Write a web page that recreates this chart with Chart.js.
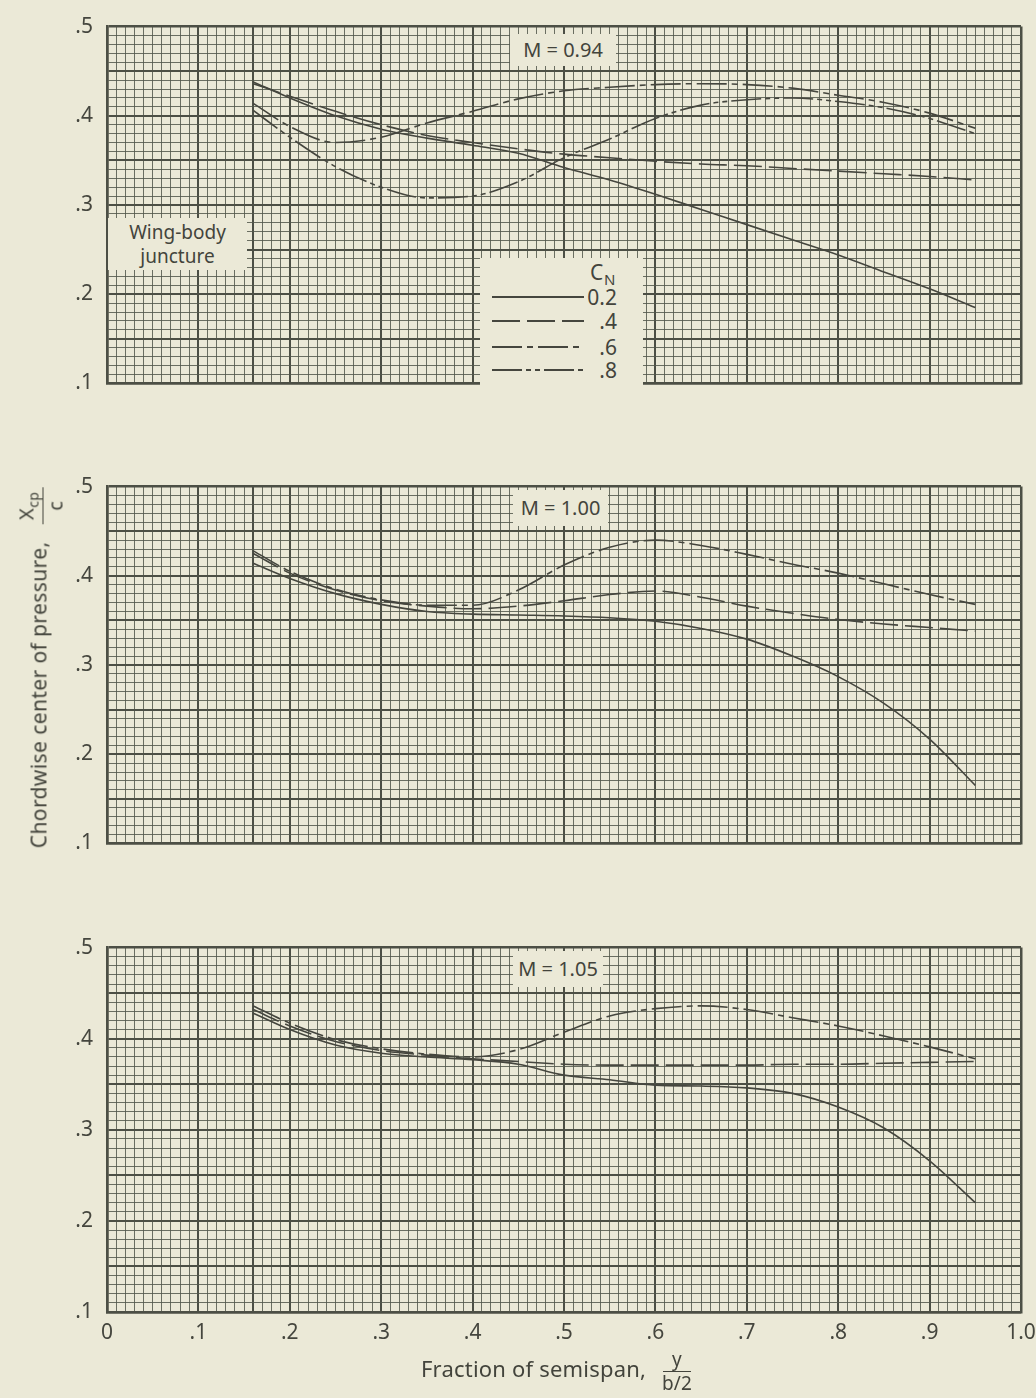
<!DOCTYPE html>
<html>
<head>
<meta charset="utf-8">
<script src="https://cdn.jsdelivr.net/npm/chart.js@4.4.1/dist/chart.umd.min.js"></script>
<style>
  body { margin: 0; width: 1036px; height: 1398px; position: relative; overflow: hidden;
         background: #ebe9d7; color: #43443c; font-family: "Noto Sans", sans-serif; }
  canvas { position: absolute; left: 0; }
  .tag { position: absolute; background: #ebe9d7; text-align: center; font-size: 20px; line-height: 1; }
  .legend { position: absolute; background: #ebe9d7; }
  .legend .row { position: absolute; left: 0; width: 100%; height: 22px; }
  .legend svg { position: absolute; left: 12px; top: 8px; }
  .legend .val { position: absolute; right: 26px; top: 0; font-size: 21px; line-height: 22px; }
  .frac { display: inline-flex; flex-direction: column; align-items: center; vertical-align: middle; line-height: 1; }
  .frac .num { padding: 0 4px 2px; border-bottom: 1.5px solid #43443c; }
  .frac .den { padding: 2px 4px 0; }
</style>
</head>
<body>
<canvas id="panel094" width="1036" height="410" style="top:0px"></canvas>
<canvas id="panel100" width="1036" height="410" style="top:460px"></canvas>
<canvas id="panel105" width="1036" height="477" style="top:921px"></canvas>

<div class="tag" style="left:510px; top:34px; width:106px; height:32px; line-height:32px;">M = 0.94</div>
<div class="tag" style="left:513px; top:490px; width:95px; height:36px; line-height:36px;">M = 1.00</div>
<div class="tag" style="left:513px; top:951px; width:90px; height:36px; line-height:36px;">M = 1.05</div>
<div class="tag" style="left:108px; top:218px; width:139px; height:52px; font-size:19px; line-height:24px; padding-top:2px; box-sizing:border-box;">Wing-body<br>juncture</div>

<div class="legend" id="legend" style="left:480px; top:258px; width:163px; height:133px;">
  <span style="position:absolute; left:110px; top:2px; font-size:21px; line-height:24px;">C</span>
  <span style="position:absolute; left:124px; top:12px; font-size:15px; line-height:18px;">N</span>
</div>

<div style="position:absolute; left:41px; top:668px; transform:translate(-50%,-50%) rotate(-90deg); white-space:nowrap; font-size:21px; letter-spacing:0.4px;">
  Chordwise center of pressure,&nbsp;&nbsp; <span class="frac" style="font-size:20px;"><span class="num">X<sub style="font-size:14px;">cp</sub></span><span class="den">c</span></span>
</div>
<div style="position:absolute; left:421px; top:1350px; white-space:nowrap; font-size:22px; letter-spacing:0.2px;">
  Fraction of semispan,&nbsp; <span class="frac" style="font-size:19px;"><span class="num">&nbsp;y&nbsp;</span><span class="den">b/2</span></span>
</div>

<script>
// spanwise stations, y/(b/2)
const span = [0.16, 0.2, 0.25, 0.3, 0.35, 0.4, 0.45, 0.5, 0.55, 0.6, 0.65, 0.7, 0.75, 0.8, 0.85, 0.9, 0.95];

// normal-force coefficients and their line patterns
const cnLabels = ['0.2', '.4', '.6', '.8'];
const cnDash = [[], [28, 7], [30, 5, 6, 5], [30, 4, 5, 4, 5, 4]];

// xcp/c at M = 0.94
const m094cn02 = [0.438, 0.420, 0.400, 0.385, 0.375, 0.367, 0.358, 0.342, 0.328, 0.312, 0.295, 0.278, 0.261, 0.244, 0.225, 0.206, 0.185];
const m094cn04 = [0.436, 0.422, 0.405, 0.390, 0.378, 0.370, 0.363, 0.357, 0.353, 0.349, 0.346, 0.344, 0.341, 0.338, 0.335, 0.332, 0.328];
const m094cn06 = [0.414, 0.388, 0.370, 0.376, 0.392, 0.405, 0.419, 0.428, 0.432, 0.435, 0.436, 0.435, 0.431, 0.423, 0.415, 0.403, 0.386];
const m094cn08 = [0.406, 0.376, 0.343, 0.320, 0.308, 0.310, 0.326, 0.353, 0.374, 0.397, 0.412, 0.418, 0.420, 0.416, 0.409, 0.397, 0.380];

// xcp/c at M = 1.00
const m100cn02 = [0.414, 0.397, 0.380, 0.368, 0.360, 0.357, 0.356, 0.355, 0.353, 0.349, 0.341, 0.329, 0.310, 0.287, 0.257, 0.217, 0.165];
const m100cn04 = [0.425, 0.403, 0.384, 0.372, 0.366, 0.363, 0.366, 0.372, 0.379, 0.383, 0.376, 0.366, 0.358, 0.351, 0.346, 0.342, 0.338];
const m100cn06 = [0.428, 0.405, 0.385, 0.373, 0.367, 0.367, 0.384, 0.412, 0.432, 0.440, 0.434, 0.424, 0.413, 0.403, 0.391, 0.379, 0.368];

// xcp/c at M = 1.05
const m105cn02 = [0.428, 0.410, 0.393, 0.384, 0.380, 0.377, 0.372, 0.360, 0.355, 0.349, 0.348, 0.346, 0.340, 0.325, 0.302, 0.266, 0.220];
const m105cn04 = [0.432, 0.414, 0.397, 0.387, 0.382, 0.378, 0.375, 0.372, 0.371, 0.371, 0.371, 0.371, 0.372, 0.372, 0.373, 0.374, 0.375];
const m105cn06 = [0.436, 0.417, 0.399, 0.389, 0.383, 0.380, 0.388, 0.407, 0.425, 0.433, 0.436, 0.432, 0.423, 0.414, 0.403, 0.391, 0.378];

const junctureX = 0.16;

const ink = '#45463e';
const majorInk = '#4c4f45';
const minorInk = 'rgba(84, 88, 76, 0.85)';

Chart.defaults.font.family = '"Noto Sans", sans-serif';
Chart.defaults.color = ink;

function hundredths(v) {
  return Math.round(v * 100);
}

function xGridWidth(ctx) {
  if (!ctx.tick) return 1;
  const h = hundredths(ctx.tick.value);
  if (h === 0 || h === 100) return 2.5;
  if (h % 10 === 0 || h === hundredths(junctureX)) return 2;
  return 1;
}

function yGridWidth(ctx) {
  if (!ctx.tick) return 1;
  const h = hundredths(ctx.tick.value);
  if (h === 10 || h === 50) return 2.5;
  if (h % 5 === 0) return 2;
  return 1;
}

function buildPanel(canvasId, series, showX, axisHeight) {
  const datasets = series.map((values, i) => ({
    label: cnLabels[i],
    data: span.map((x, k) => ({ x: x, y: values[k] })),
    borderColor: ink,
    borderWidth: 1.6,
    borderDash: cnDash[i],
    pointRadius: 0,
    cubicInterpolationMode: 'monotone',
    fill: false
  }));

  return new Chart(document.getElementById(canvasId), {
    type: 'line',
    data: { datasets: datasets },
    options: {
      responsive: false,
      animation: false,
      devicePixelRatio: 1,
      layout: { padding: { top: 22, right: 15, left: 0, bottom: 0 } },
      plugins: { legend: { display: false }, tooltip: { enabled: false } },
      scales: {
        x: {
          type: 'linear',
          min: 0,
          max: 1,
          afterBuildTicks: s => { s.ticks = Array.from({ length: 101 }, (_, i) => ({ value: i / 100 })); },
          // keep every panel the same width; the "1.0" label may run into the margin
          afterFit: s => { s.height = axisHeight; s.paddingRight = 0; },
          ticks: {
            display: showX,
            autoSkip: false,
            maxRotation: 0,
            padding: 8,
            font: { size: 21 },
            callback: v => {
              const h = hundredths(v);
              if (h % 10 !== 0) return '';
              if (h === 0) return '0';
              if (h === 100) return '1.0';
              return '.' + h / 10;
            }
          },
          grid: {
            drawTicks: false,
            color: ctx => xGridWidth(ctx) > 1 ? majorInk : minorInk,
            lineWidth: xGridWidth
          },
          border: { color: majorInk, width: 2.5 }
        },
        y: {
          min: 0.1,
          max: 0.5,
          afterBuildTicks: s => { s.ticks = Array.from({ length: 41 }, (_, i) => ({ value: (i + 10) / 100 })); },
          afterFit: s => { s.width = 107; },
          ticks: {
            autoSkip: false,
            padding: 14,
            font: { size: 21 },
            callback: v => {
              const h = hundredths(v);
              return h % 10 === 0 ? '.' + h / 10 : '';
            }
          },
          grid: {
            drawTicks: false,
            color: ctx => yGridWidth(ctx) > 1 ? majorInk : minorInk,
            lineWidth: yGridWidth
          },
          border: { color: majorInk, width: 2.5 }
        }
      }
    }
  });
}

buildPanel('panel094', [m094cn02, m094cn04, m094cn06, m094cn08], false, 18);
buildPanel('panel100', [m100cn02, m100cn04, m100cn06], false, 18);
buildPanel('panel105', [m105cn02, m105cn04, m105cn06], true, 86);

// legend rows use the same dash patterns as the curves
const legend = document.getElementById('legend');
const rowTops = [28, 52, 78, 101];
cnLabels.forEach((label, i) => {
  const row = document.createElement('div');
  row.className = 'row';
  row.style.top = rowTops[i] + 'px';
  row.innerHTML =
    '<svg width="92" height="6"><line x1="0" y1="3" x2="92" y2="3" stroke="' + ink +
    '" stroke-width="2" stroke-dasharray="' + (cnDash[i].length ? cnDash[i].join(',') : 'none') +
    '"/></svg><span class="val">' + label + '</span>';
  legend.appendChild(row);
});
</script>
</body>
</html>
